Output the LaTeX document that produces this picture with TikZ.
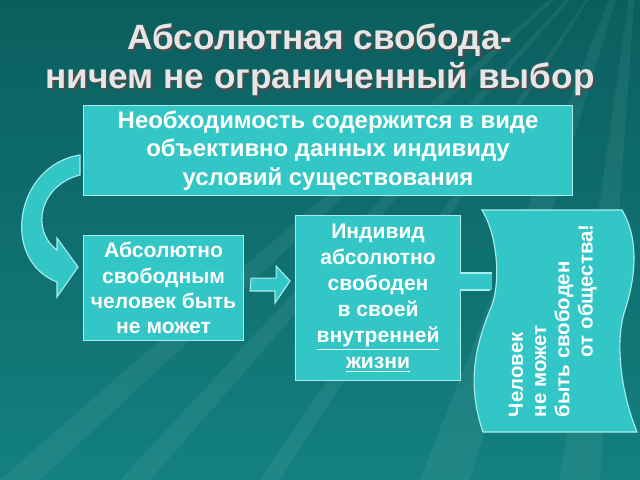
\documentclass[tikz,border=0pt]{standalone}
\usepackage{fontspec}
\setmainfont{Liberation Sans}
\definecolor{bgA}{HTML}{0B5E5E}
\definecolor{bgB}{HTML}{138080}
\definecolor{boxc}{HTML}{33C6C6}
\definecolor{edgec}{HTML}{A8ECEC}
\definecolor{titlec}{HTML}{E6E6E6}
\tikzset{
  box/.style={draw=edgec,line width=0.8pt,fill=boxc,text=white,font=\bfseries\fontsize{15}{18}\selectfont,align=center,inner sep=2pt},
  shape2/.style={draw=edgec,line width=0.8pt,fill=boxc}
}
\begin{document}
\begin{tikzpicture}[x=0.025cm,y=-0.025cm]
\shade[top color=bgA,bottom color=bgB] (0,0) rectangle (640,480);
\useasboundingbox (0,0) rectangle (640,480);
\foreach \a/\b in {0/40,120/150,260/280,420/470,560/600}
  \fill[white,opacity=0.06] (640,-80) -- (\a,480) -- (\b,480) -- cycle;
% title
\node[text=black!70,font=\bfseries\fontsize{25}{28}\selectfont,align=center] at (322,62) {Абсолютная свобода-\\ничем не ограниченный выбор};
\node[text=titlec,font=\bfseries\fontsize{25}{28}\selectfont,align=center] (title) at (320,60) {Абсолютная свобода-\\ничем не ограниченный выбор};
% boxes
\node[box,font=\bfseries\fontsize{17}{20.5}\selectfont,minimum width=489*0.025cm,minimum height=90*0.025cm,anchor=north west] (top) at (83,105) {Необходимость содержится в виде\\объективно данных индивиду\\условий существования};
\node[box,minimum width=160*0.025cm,minimum height=105*0.025cm,anchor=north west] (left) at (83,235) {Абсолютно\\свободным\\человек быть\\не может};
\node[box,font=\bfseries\fontsize{15}{18.5}\selectfont,minimum width=165*0.025cm,minimum height=165*0.025cm,anchor=north west] (mid) at (295,215) {Индивид\\абсолютно\\свободен\\в своей\\\underline{внутренней}\\\underline{жизни}};
% connector bar mid -> wave
\fill[boxc] (460,273) rectangle (492,290);
\draw[edgec,line width=0.8pt] (460,273) -- (492,273) (460,290) -- (490,290);
% wave shape
\draw[shape2] (482,210) .. controls (500,240) and (500,290) .. (490,310)
  .. controls (478,340) and (465,380) .. (483,432) -- (637,432)
  .. controls (620,390) and (615,340) .. (625,310)
  .. controls (635,280) and (640,240) .. (622,210) -- cycle;
\node[rotate=90,text=white,font=\bfseries\fontsize{14.5}{16.5}\selectfont,align=left,anchor=north west] (wave) at (504,422) {Человек\\не может\\быть свободен\\\hspace*{1.5cm}от общества!};
% straight block arrow
\draw[shape2] (left.east) ++(7,-10) coordinate (a0) -- ++(25,0) -- ++(0,-12) -- (290,281) -- (275,303) -- ++(0,-12) -- ++(-25,0) -- cycle;
% curved arrow
\draw[shape2] (80,155) .. controls (15,165) and (0,260) .. (57,282)
  -- (57,297) -- (78,267) -- (57,238) -- (57,250)
  .. controls (30,230) and (40,185) .. (80,175) -- cycle;
\end{tikzpicture}
\end{document}
